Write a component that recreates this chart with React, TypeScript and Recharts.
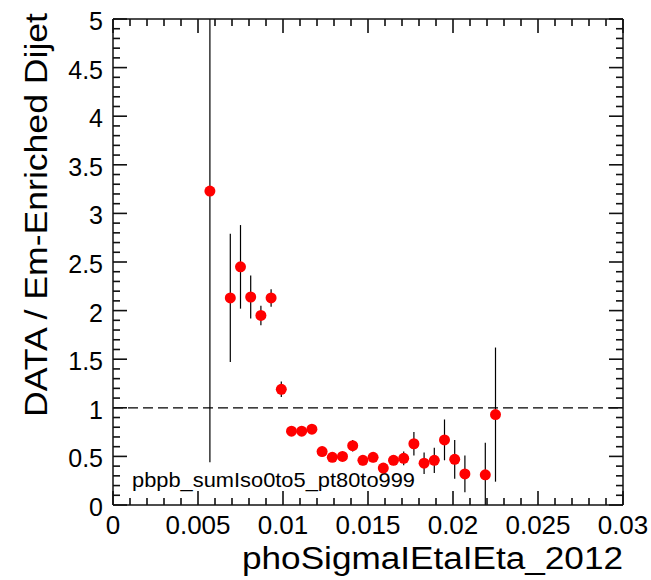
import { ScatterChart, Scatter, XAxis, YAxis, ErrorBar, ReferenceLine } from "recharts";

// bin centres (phoSigmaIEtaIEta) and the DATA / Em-Enriched ratio
const binCenters = [
  0.0057, 0.0069, 0.0075, 0.0081, 0.0087, 0.0093, 0.0099, 0.0105, 0.0111,
  0.0117, 0.0123, 0.0129, 0.0135, 0.0141, 0.0147, 0.0153, 0.0159, 0.0165,
  0.0171, 0.0177, 0.0183, 0.0189, 0.0195, 0.0201, 0.0207, 0.0219, 0.0225,
];
const ratio = [
  3.23, 2.13, 2.45, 2.14, 1.95, 2.13, 1.19, 0.76, 0.76,
  0.78, 0.55, 0.49, 0.5, 0.61, 0.46, 0.49, 0.38, 0.46,
  0.48, 0.63, 0.43, 0.46, 0.67, 0.47, 0.32, 0.31, 0.93,
];
const errLow = [
  2.79, 0.66, 0.43, 0.22, 0.1, 0.09, 0.08, 0.05, 0.05,
  0.05, 0.05, 0.04, 0.05, 0.06, 0.05, 0.05, 0.04, 0.05,
  0.07, 0.12, 0.11, 0.13, 0.21, 0.2, 0.19, 0.31, 0.69,
];
const errHigh = [
  1.77, 0.66, 0.43, 0.22, 0.1, 0.09, 0.08, 0.05, 0.05,
  0.05, 0.05, 0.04, 0.05, 0.06, 0.05, 0.05, 0.04, 0.05,
  0.07, 0.12, 0.11, 0.13, 0.21, 0.2, 0.19, 0.33, 0.69,
];

const xTickLabels = ["0", "0.005", "0.01", "0.015", "0.02", "0.025", "0.03"];
const yTickLabels = ["0", "0.5", "1", "1.5", "2", "2.5", "3", "3.5", "4", "4.5", "5"];

const points = binCenters.map((x, i) => ({ x, y: ratio[i], err: [errLow[i], errHigh[i]] }));

// minor tick positions (every 0.001 on x, every 0.1 on y)
const xTicks = Array.from({ length: 31 }, (_, i) => +(i * 0.001).toFixed(3));
const yTicks = Array.from({ length: 51 }, (_, i) => +(i * 0.1).toFixed(1));

const FONT = "'Liberation Sans', Arial, Helvetica, sans-serif";
const INK = "#111";
const TICK_W = 1.6;
const MAJOR = 14;
const MINOR = 7;

const isMajor = (v: number, step: number) => Math.abs(v / step - Math.round(v / step)) < 1e-6;
const findLabel = (labels: string[], v: number) => labels.find((s) => Math.abs(parseFloat(s) - v) < 1e-9);

// all inward ticks of the frame, drawn as one path per side from the axis tick callbacks
const BottomTick = ({ x, y, payload }: any) => {
  const major = isMajor(payload.value, 0.005);
  return (
    <g>
      <rect x={x - TICK_W / 2} y={y - (major ? MAJOR : MINOR)} width={TICK_W} height={major ? MAJOR : MINOR} fill={INK} />
      {major && (
        <text x={x} y={y + 29} textAnchor="middle" fontSize={26} fontFamily={FONT} fill="#000">
          {findLabel(xTickLabels, payload.value)}
        </text>
      )}
    </g>
  );
};

const TopTick = ({ x, y, payload }: any) => {
  const major = isMajor(payload.value, 0.005);
  return <rect x={x - TICK_W / 2} y={y} width={TICK_W} height={major ? MAJOR : MINOR} fill={INK} />;
};

const LeftTick = ({ x, y, payload }: any) => {
  const major = isMajor(payload.value, 0.5);
  return (
    <g>
      <rect x={x} y={y - TICK_W / 2} width={major ? MAJOR : MINOR} height={TICK_W} fill={INK} />
      {major && (
        <text x={x - 10} y={y + 11} textAnchor="end" fontSize={25} fontFamily={FONT} fill="#000">
          {findLabel(yTickLabels, payload.value)}
        </text>
      )}
    </g>
  );
};

const RightTick = ({ x, y, payload }: any) => {
  const major = isMajor(payload.value, 0.5);
  const len = major ? MAJOR : MINOR;
  return <rect x={x - len} y={y - TICK_W / 2} width={len} height={TICK_W} fill={INK} />;
};

export default function App() {
  return (
    <div style={{ position: "absolute", left: 0, top: 0, background: "#fff" }}>
      <ScatterChart width={651} height={580} margin={{ top: 18, right: 27, bottom: 0, left: 0 }}>
        <XAxis
          type="number"
          dataKey="x"
          domain={[0, 0.03]}
          ticks={xTicks}
          interval={0}
          tick={(p: any) => <BottomTick {...p} />}
          tickSize={0}
          tickMargin={0}
          tickLine={false}
          height={75}
          axisLine={{ stroke: INK, strokeWidth: 1.5 }}
          label={{
            content: ({ viewBox }: any) => (
              <text
                x={viewBox.x + viewBox.width}
                y={viewBox.y + 64}
                textAnchor="end"
                fontSize={31}
                fontFamily={FONT}
                textLength={381}
                lengthAdjust="spacingAndGlyphs"
                fill="#000"
              >
                phoSigmaIEtaIEta_2012
              </text>
            ),
          }}
        />
        <XAxis
          xAxisId="top"
          orientation="top"
          type="number"
          dataKey="x"
          domain={[0, 0.03]}
          ticks={xTicks}
          interval={0}
          tick={(p: any) => <TopTick {...p} />}
          tickSize={0}
          tickMargin={0}
          tickLine={false}
          height={1}
          axisLine={{ stroke: INK, strokeWidth: 1.5 }}
        />
        <YAxis
          type="number"
          dataKey="y"
          domain={[0, 5]}
          ticks={yTicks}
          interval={0}
          tick={(p: any) => <LeftTick {...p} />}
          tickSize={0}
          tickMargin={0}
          tickLine={false}
          width={113}
          axisLine={{ stroke: INK, strokeWidth: 1.5 }}
          label={{
            content: ({ viewBox }: any) => (
              <text
                transform={`translate(47, ${viewBox.y + viewBox.height - 88}) rotate(-90)`}
                fontSize={32}
                fontFamily={FONT}
                textLength={404}
                lengthAdjust="spacingAndGlyphs"
                fill="#000"
              >
                DATA / Em-Enriched Dijet
              </text>
            ),
          }}
        />
        <YAxis
          yAxisId="right"
          orientation="right"
          type="number"
          dataKey="y"
          domain={[0, 5]}
          ticks={yTicks}
          interval={0}
          tick={(p: any) => <RightTick {...p} />}
          tickSize={0}
          tickMargin={0}
          tickLine={false}
          width={1}
          axisLine={{ stroke: INK, strokeWidth: 1.5 }}
        />
        <ReferenceLine y={1} stroke="#000" strokeWidth={1.3} strokeDasharray="10 5" />
        {/* frame series: binds the top and right axes so that they are drawn */}
        <Scatter
          data={points}
          xAxisId="top"
          yAxisId="right"
          isAnimationActive={false}
          legendType="none"
          shape={() => <g />}
        />
        <Scatter
          data={points}
          isAnimationActive={false}
          shape={(p: any) => <circle cx={p.cx} cy={p.cy} r={5.5} fill="#ff0000" />}
        >
          <ErrorBar dataKey="err" direction="y" width={0} stroke="#000" strokeWidth={1.2} isAnimationActive={false} />
        </Scatter>
        <text x={132} y={487} fontSize={21} fontFamily={FONT} textLength={283} lengthAdjust="spacingAndGlyphs" fill="#000">
          pbpb_sumIso0to5_pt80to999
        </text>
      </ScatterChart>
    </div>
  );
}
